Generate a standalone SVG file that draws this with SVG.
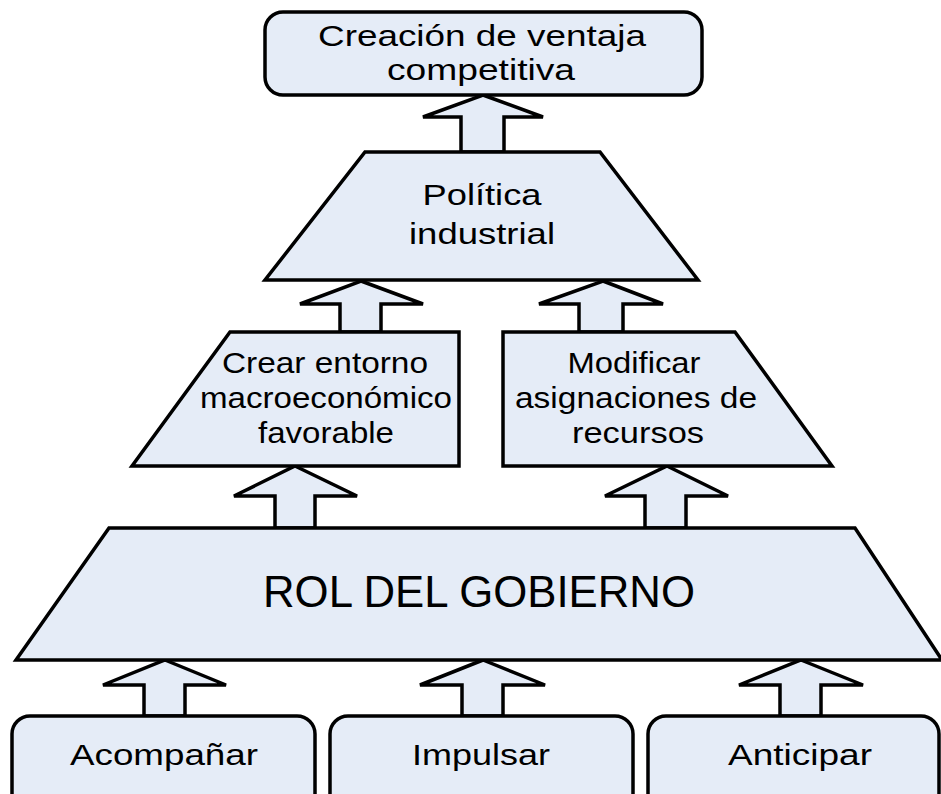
<svg xmlns="http://www.w3.org/2000/svg" width="941" height="794" viewBox="0 0 941 794">
<style>
.s{fill:#e5ecf7;stroke:#000;stroke-width:3.5;stroke-linejoin:miter}
.t{font-family:"Liberation Sans",Arial,sans-serif;font-size:30px;fill:#000;text-anchor:middle}
</style>
<rect width="941" height="794" fill="#fff"/>
<g id="connectors">
<polygon class="s" points="483,95 543,117 504,117 504,152 461,152 461,117 423,117"/>
<polygon class="s" points="361,281 423,304 381,304 381,332 340,332 340,304 300,304"/>
<polygon class="s" points="603,281 663,304 623,304 623,332 579,332 579,304 539,304"/>
<polygon class="s" points="295,466 357,496 315,496 315,528 275,528 275,496 234,496"/>
<polygon class="s" points="667,466 728,496 686,496 686,528 645,528 645,496 605,496"/>
<polygon class="s" points="165,660 226,685 185,685 185,716 144,716 144,685 103,685"/>
<polygon class="s" points="483,660 545,685 503,685 503,716 462,716 462,685 420,685"/>
<polygon class="s" points="801,660 863,685 821,685 821,716 780,716 780,685 739,685"/>
</g>
<g id="ventaja">
<rect class="s" x="265" y="12" width="437" height="83" rx="18"/>
<text class="t" x="482" y="46" textLength="328" lengthAdjust="spacingAndGlyphs">Creación de ventaja</text>
<text class="t" x="481" y="80" textLength="188" lengthAdjust="spacingAndGlyphs">competitiva</text>
</g>
<g id="politica">
<polygon class="s" points="365,152 600,152 698,280 265,280"/>
<text class="t" x="482" y="205" textLength="119" lengthAdjust="spacingAndGlyphs">Política</text>
<text class="t" x="482" y="244" textLength="146" lengthAdjust="spacingAndGlyphs">industrial</text>
</g>
<g id="entorno">
<polygon class="s" points="230,332 459,332 459,466 132,466"/>
<text class="t" x="325" y="373" textLength="206" lengthAdjust="spacingAndGlyphs">Crear entorno</text>
<text class="t" x="326" y="408" textLength="252" lengthAdjust="spacingAndGlyphs">macroeconómico</text>
<text class="t" x="326" y="443" textLength="136" lengthAdjust="spacingAndGlyphs">favorable</text>
</g>
<g id="asignaciones">
<polygon class="s" points="503,332 735,332 832,466 503,466"/>
<text class="t" x="634" y="373" textLength="133" lengthAdjust="spacingAndGlyphs">Modificar</text>
<text class="t" x="636" y="408" textLength="242" lengthAdjust="spacingAndGlyphs">asignaciones de</text>
<text class="t" x="638" y="443" textLength="132" lengthAdjust="spacingAndGlyphs">recursos</text>
</g>
<g id="gobierno">
<polygon class="s" points="109,528 855,528 942,660 16,660"/>
<text class="t" x="479" y="607" style="font-size:44px" textLength="432" lengthAdjust="spacingAndGlyphs">ROL DEL GOBIERNO</text>
</g>
<g id="acompanar">
<rect class="s" x="12" y="716" width="303" height="120" rx="18"/>
<text class="t" x="164" y="765" textLength="188" lengthAdjust="spacingAndGlyphs">Acompañar</text>
</g>
<g id="impulsar">
<rect class="s" x="330" y="716" width="303" height="120" rx="18"/>
<text class="t" x="481" y="765" textLength="138" lengthAdjust="spacingAndGlyphs">Impulsar</text>
</g>
<g id="anticipar">
<rect class="s" x="648" y="716" width="291" height="120" rx="18"/>
<text class="t" x="800" y="765" textLength="144" lengthAdjust="spacingAndGlyphs">Anticipar</text>
</g>
</svg>
